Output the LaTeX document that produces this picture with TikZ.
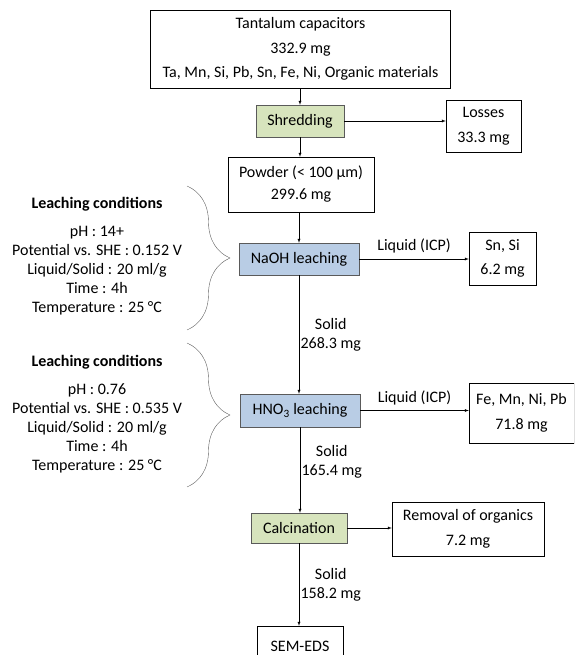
\documentclass[tikz,border=0pt]{standalone}
\usepackage{fontspec}
\setmainfont{Carlito}
\usepackage{tikz}
\usetikzlibrary{arrows,decorations.pathreplacing}
\definecolor{tcgreen}{RGB}{215,228,189}
\definecolor{tcblue}{RGB}{185,205,229}
\definecolor{tcgray}{RGB}{90,90,90}
\tikzstyle{arrow} = [->,>=latex,thin,color=black]
\tikzstyle{stepbox} = [rectangle, draw=black, thin, align=center, inner sep=0pt, font=\fontsize{16}{24.5}\selectfont]
\tikzstyle{process} = [stepbox, draw=tcgray]
\tikzstyle{condtext} = [align=center, font=\fontsize{16}{19}\selectfont]

\begin{document}
\begin{tikzpicture}[x=1pt,y=-1pt]
\clip (0,0) rectangle (574,655);

% Main flow
\node[stepbox, minimum width=300, minimum height=78] (caps) at (300.5,49) {Tantalum capacitors\\332.9 mg\\Ta, Mn, Si, Pb, Sn, Fe, Ni, Organic materials};
\node[process, fill=tcgreen, minimum width=88, minimum height=32] (shred) at (300,121) {Shredding};
\node[stepbox, minimum width=146, minimum height=55, font=\fontsize{16}{22}\selectfont] (powder) at (301,184.5) {Powder (< 100 µm)\\299.6 mg};
\node[process, fill=tcblue, minimum width=120, minimum height=32] (naoh) at (299,259) {NaOH leaching};
\node[process, fill=tcblue, minimum width=120, minimum height=33] (hno) at (300,410.5) {HNO\textsubscript{3} leaching};
\node[process, fill=tcgreen, minimum width=96, minimum height=30] (calc) at (299,528) {Calcination};
\node[stepbox, minimum width=86, minimum height=40] (sem) at (300,646) {SEM-EDS};

% Outputs
\node[stepbox, minimum width=75, minimum height=52] (losses) at (483.5,126) {Losses\\33.3 mg};
\node[stepbox, minimum width=67, minimum height=53] (snsi) at (502.5,258.5) {Sn, Si\\6.2 mg};
\node[stepbox, minimum width=105, minimum height=60] (femn) at (521.5,413) {Fe, Mn, Ni, Pb\\71.8 mg};
\node[stepbox, minimum width=152, minimum height=54] (organics) at (468,529) {Removal of organics\\7.2 mg};

% Arrows
\draw[arrow] (caps.south -| shred) -- (shred.north);
\draw[arrow] (shred.south) -- (shred.south |- powder.north);
\draw[arrow] (shred.east) -- (shred.east -| losses.west);
\draw[arrow] (powder.south -| naoh) -- (naoh.north);
\draw[arrow] (naoh.east) -- node[above, font=\fontsize{16}{19}\selectfont, yshift=2] {Liquid (ICP)} (naoh.east -| snsi.west);
\draw[arrow] (naoh.south) -- node[right, condtext, xshift=-2] {Solid\\268.3 mg} (naoh.south |- hno.north);
\draw[arrow] (hno.east) -- node[above, font=\fontsize{16}{19}\selectfont, yshift=2] {Liquid (ICP)} (hno.east -| femn.west);
\draw[arrow] (hno.south) -- node[right, condtext, pos=0.4, xshift=-2] {Solid\\165.4 mg} (hno.south |- calc.north);
\draw[arrow] (calc.east) -- (calc.east -| organics.west);
\draw[arrow] (calc.south) -- node[right, condtext, xshift=-2] {Solid\\158.2 mg} (calc.south |- sem.north);

% Leaching conditions
\node[font=\fontsize{16}{19}\selectfont\bfseries] (cond1title) at (97,204) {Leaching conditions};
\node[condtext] (cond1) at (97,271) {pH : 14+\\Potential vs. SHE : 0.152 V\\Liquid/Solid : 20 ml/g\\Time : 4h\\Temperature : 25 °C};
\node[font=\fontsize{16}{19}\selectfont\bfseries] (cond2title) at (97,362) {Leaching conditions};
\node[condtext] (cond2) at (97,428.5) {pH : 0.76\\Potential vs. SHE : 0.535 V\\Liquid/Solid : 20 ml/g\\Time : 4h\\Temperature : 25 °C};

% Braces
\draw[tcgray, thin, decorate, decoration={brace, amplitude=43}] (187,186) -- (187,330);
\draw[tcgray, thin, decorate, decoration={brace, amplitude=43}] (187,343) -- (187,487);
\end{tikzpicture}
\end{document}
